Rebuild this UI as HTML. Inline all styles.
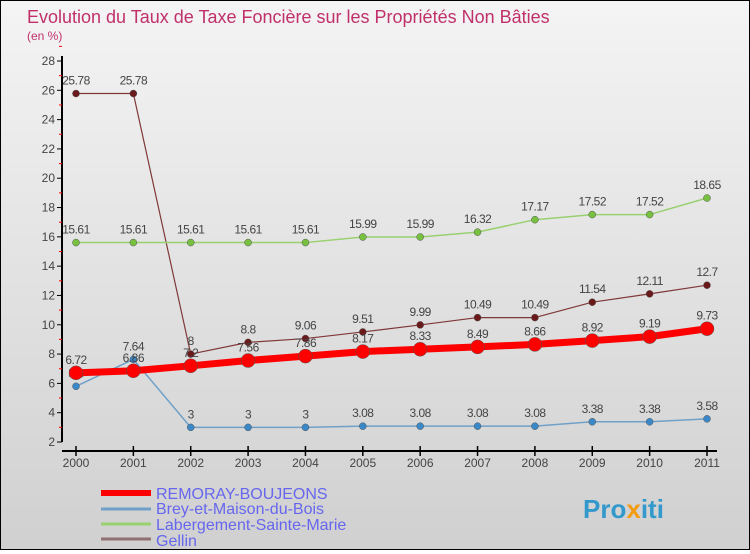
<!DOCTYPE html>
<html><head><meta charset="utf-8"><style>
html,body{margin:0;padding:0;}
body{width:750px;height:550px;overflow:hidden;font-family:"Liberation Sans",sans-serif;}
#wrap{position:relative;width:748px;height:548px;border:1px solid #000;background:linear-gradient(#f4f4f4,#d0d0d0);}
</style></head><body>
<div id="wrap">
<svg id="chart" width="748" height="548" xmlns="http://www.w3.org/2000/svg">
<text x="26" y="22" font-size="18" fill="#c0306a">Evolution du Taux de Taxe Foncière sur les Propriétés Non Bâties</text>
<text x="26" y="39" font-size="12" fill="#c0306a">(en %)</text>
<g id="axes"></g><g id="series"></g>
<g>
<line x1="100" y1="492" x2="150" y2="492" stroke="#f00" stroke-width="6"/>
<text x="155" y="498" font-size="16" fill="#6666ee">REMORAY-BOUJEONS</text>
<line x1="100" y1="508" x2="150" y2="508" stroke="#70a0c8" stroke-width="3"/>
<text x="155" y="513" font-size="16" fill="#6666ee">Brey-et-Maison-du-Bois</text>
<line x1="100" y1="523" x2="150" y2="523" stroke="#99d070" stroke-width="3"/>
<text x="155" y="529" font-size="16" fill="#6666ee">Labergement-Sainte-Marie</text>
<line x1="100" y1="538" x2="150" y2="538" stroke="#907070" stroke-width="3"/>
<text x="155" y="545" font-size="16" fill="#6666ee">Gellin</text>
</g>
<text x="582" y="517" font-size="26" font-weight="bold" fill="#3399cc">Pro<tspan fill="#f39c12">x</tspan>iti</text>
</svg>
</div>
<script>
const years=["2000","2001","2002","2003","2004","2005","2006","2007","2008","2009","2010","2011"];
const yTicks=[2,4,6,8,10,12,14,16,18,20,22,24,26,28];
const remoray=[6.72,6.86,7.2,7.56,7.86,8.17,8.33,8.49,8.66,8.92,9.19,9.73];
const brey=[5.8,7.64,3,3,3,3.08,3.08,3.08,3.08,3.38,3.38,3.58];
const labergement=[15.61,15.61,15.61,15.61,15.61,15.99,15.99,16.32,17.17,17.52,17.52,18.65];
const gellin=[25.78,25.78,8,8.8,9.06,9.51,9.99,10.49,10.49,11.54,12.11,12.7];
const NS="http://www.w3.org/2000/svg";
const X0=75,X1=706,Y0=441,Y1=60,VMIN=2,VMAX=28;
function xs(i){return X0+(X1-X0)*i/(years.length-1);}
function ys(v){return Y0-(v-VMIN)*(Y0-Y1)/(VMAX-VMIN);}
function mk(tag,attrs,parent){const e=document.createElementNS(NS,tag);for(const k in attrs)e.setAttribute(k,attrs[k]);parent.appendChild(e);return e;}
const axes=document.getElementById('axes');
const ax=mk('line',{x1:61,y1:Y1-5,x2:61,y2:Y0,stroke:'#000','stroke-width':2},axes);


const bx=mk('line',{x1:61,y1:450,x2:X1+10,y2:450,stroke:'#000','stroke-width':2},axes);


yTicks.forEach(v=>{
  const y=ys(v);
  mk('line',{x1:56,y1:y,x2:61,y2:y,stroke:'#000','stroke-width':1},axes);
  mk('line',{x1:58,y1:ys(v+1),x2:61,y2:ys(v+1),stroke:'#f00','stroke-width':1},axes);
  const t=mk('text',{x:54,y:y+4,'font-size':12,fill:'#444','text-anchor':'end'},axes);
  t.textContent=v;
  
  
});
years.forEach((yr,i)=>{
  mk('line',{x1:xs(i),y1:445,x2:xs(i),y2:455,stroke:'#000','stroke-width':1.5},axes);
  const t=mk('text',{x:xs(i),y:466,'font-size':12,fill:'#444','text-anchor':'middle'},axes);
  t.textContent=yr;
  
  
});
const sg=document.getElementById('series');
function draw(name,vals,color,w,r,dot){
  const g=mk('g',{},sg);
  
  
  const p=mk('polyline',{points:vals.map((v,i)=>xs(i)+','+ys(v)).join(' '),fill:'none',stroke:color,'stroke-width':w,'stroke-linejoin':'round'},g);
  
  
  vals.forEach((v,i)=>{
    const c=mk('circle',{cx:xs(i),cy:ys(v),r:r,fill:dot,stroke:'#555','stroke-width':0.5},g);
    
    
    const t=mk('text',{x:xs(i),y:ys(v)-9,'font-size':12,fill:'#444','text-anchor':'middle','letter-spacing':'-0.5'},g);
    t.textContent=v;
    
    
  });
}
draw('gellin',gellin,'#803838',1.2,3.5,'#6a1a1a');
draw('labergement',labergement,'#99d070',1.5,3.5,'#77c040');
draw('brey',brey,'#70a0c8',1.5,3.5,'#3a88c8');
draw('remoray',remoray,'#ff0000',7,7,'#ff0000');
</script>
</body></html>
